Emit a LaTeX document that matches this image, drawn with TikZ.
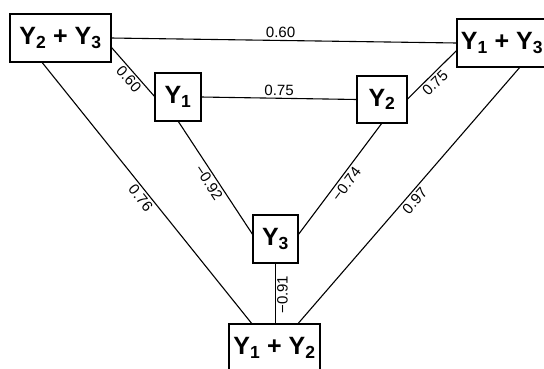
\documentclass[tikz,border=0pt]{standalone}
\usepackage{fontspec}
\setmainfont{Liberation Sans}
\begin{document}
\begin{tikzpicture}[x=1pt,y=-1pt,
  box/.style={draw, line width=1.1pt, inner sep=0pt, outer sep=0pt, font=\bfseries\fontsize{25}{30}\selectfont},
  lbl/.style={font=\fontsize{15}{17}\selectfont, sloped, inner sep=2pt},
  conn/.style={line width=1.1pt}]
\useasboundingbox (0,0) rectangle (544,368);
\clip (0,0) rectangle (544,368);
\node[box, minimum width=101pt, minimum height=48pt] (Y23) at (60.5,38) {Y\textsubscript{2} + Y\textsubscript{3}};
\node[box, minimum width=90pt, minimum height=48pt] (Y13) at (502,43) {Y\textsubscript{1} + Y\textsubscript{3}};
\node[box, minimum width=46pt, minimum height=48pt] (Y1) at (178,97) {Y\textsubscript{1}};
\node[box, minimum width=50pt, minimum height=47pt] (Y2) at (382,99.5) {Y\textsubscript{2}};
\node[box, minimum width=45pt, minimum height=48pt] (Y3) at (275.5,239) {Y\textsubscript{3}};
\node[box, minimum width=91pt, minimum height=48pt] (Y12) at (274.5,348) {Y\textsubscript{1} + Y\textsubscript{2}};

\draw[conn] (Y23.east) -- node[lbl, above, pos=0.49] {0.60} (Y13.west);
\draw[conn] (Y23.-10) -- node[lbl, below, pos=0.54] {0.60} (Y1.west);
\draw[conn] (Y1.east) -- node[lbl, above] {0.75} (Y2.west);
\draw[conn] (Y2.east) -- node[lbl, below, pos=0.45] {0.75} (Y13.189);
\draw[conn] (Y1.south) -- node[lbl, below] {−0.92} (Y3.170);
\draw[conn] (Y2.south) -- node[lbl, below] {−0.74} (Y3.10);
\draw[conn] (Y3.south) -- node[font=\fontsize{15}{17}\selectfont, rotate=90, anchor=north, inner sep=1pt, pos=0.52] {−0.91} (Y3.south |- Y12.north);
\draw[conn] (Y23.232) -- node[lbl, below] {0.76} (Y12.133);
\draw[conn] (Y13.-53) -- node[lbl, below] {0.97} (Y12.46);
\end{tikzpicture}
\end{document}
